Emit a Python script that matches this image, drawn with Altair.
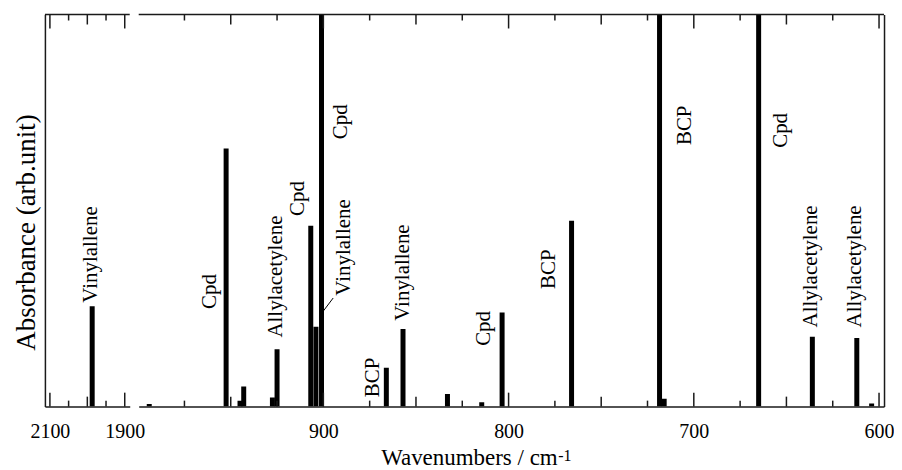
import altair as alt
import pandas as pd

# ---------------- data ----------------
left_wn = [1987]
left_abs = [0.256]

right_wn = [994, 952.5, 945, 943, 927.5, 925, 906.8, 904, 901, 866, 857, 833,
            814.5, 803.5, 766, 718.5, 716, 665, 636, 612, 604]
right_abs = [0.007, 0.658, 0.015, 0.051, 0.023, 0.146, 0.461, 0.204, 1.05, 0.099,
             0.198, 0.032, 0.011, 0.240, 0.474, 1.05, 0.02, 1.05, 0.178, 0.175, 0.008]

left_lab_text = ["Vinylallene"]
left_lab_wn = [1974]
left_lab_abs = [0.265]

lab_text = ["Cpd", "Allylacetylene", "Cpd", "Vinylallene", "Cpd", "BCP", "Vinylallene",
            "Cpd", "BCP", "BCP", "Cpd", "Allylacetylene", "Allylacetylene"]
lab_wn = [958.2, 922.1, 910.6, 885.4, 887.4, 870.1, 854.0, 810.3, 775.0, 701.6,
          649.5, 633.5, 609.6]
lab_abs = [0.249, 0.176, 0.486, 0.283, 0.682, 0.024, 0.219, 0.155, 0.300, 0.667,
           0.660, 0.202, 0.202]

leader_wn = [901.1, 894.7]
leader_abs = [0.237, 0.277]

left_ticks_major = [2100, 1900]
left_ticks_mid = [2000]
left_ticks_minor = [2050, 1950]
right_ticks_major = [900, 800, 700, 600]
right_ticks_mid = [950, 850, 750, 650]
right_ticks_minor = [975, 925, 875, 825, 775, 725, 675, 625]

left_tick_labels = [2100, 1900]
right_tick_labels = [900, 800, 700, 600]

y_title = "Absorbance (arb.unit)"
x_title = "Wavenumbers / cm"
x_title_sup = "-1"

# ---------------- styling ----------------
FONT = "Liberation Serif"
H = 393
WL, WR = 85, 747
LINE = "#1a1a1a"
LW = 1.5
TICK_LEN = {"major": 14, "mid": 10, "minor": 6}

xl = alt.Scale(domain=[2100, 1900], nice=False, zero=False)
xr = alt.Scale(domain=[997, 600], nice=False, zero=False)
ys = alt.Scale(domain=[0, 1], nice=False, zero=True)


def tick_layers(values, xscale, kind):
    df = pd.DataFrame({"wn": values})
    n = TICK_LEN[kind]
    base = alt.Chart(df).mark_rule(color=LINE, strokeWidth=LW)
    bottom = base.encode(x=alt.X("wn:Q", scale=xscale, axis=None),
                         y=alt.value(H), y2=alt.value(H - n))
    top = base.encode(x=alt.X("wn:Q", scale=xscale, axis=None),
                      y=alt.value(0), y2=alt.value(n))
    return [bottom, top]


def x_axis(values):
    return alt.Axis(values=values, format="d", labelFont=FONT, labelFontSize=20,
                    labelColor="black", ticks=False, tickSize=0, labelPadding=15,
                    domain=True, domainColor=LINE, domainWidth=LW, grid=False,
                    title=None, labelFlush=False, labelOverlap=False)


# ---------------- left panel ----------------
left_df = pd.DataFrame({"wn": left_wn, "abs": left_abs})
left_bars = alt.Chart(left_df).mark_bar(color="black", size=5, clip=True).encode(
    x=alt.X("wn:Q", scale=xl, axis=x_axis(left_tick_labels)),
    y=alt.Y("abs:Q", scale=ys,
            axis=alt.Axis(labels=False, ticks=False, tickSize=0, domain=True,
                          domainColor=LINE, domainWidth=LW, grid=False,
                          title=y_title, titleFont=FONT, titleFontSize=27,
                          titleFontWeight="normal", titleColor="black",
                          titlePadding=4, titleY=218)),
)
left_lab = alt.Chart(pd.DataFrame({"t": left_lab_text, "wn": left_lab_wn, "abs": left_lab_abs})).mark_text(
    angle=270, align="left", baseline="alphabetic", font=FONT, fontSize=21, color="black"
).encode(x=alt.X("wn:Q", scale=xl, axis=None), y=alt.Y("abs:Q", scale=ys, axis=None), text="t:N")

left_top = alt.Chart(pd.DataFrame({"a": [0]})).mark_rule(color=LINE, strokeWidth=LW).encode(
    x=alt.value(0), x2=alt.value(WL), y=alt.value(0))

left_layers = [left_bars, left_lab, left_top]
left_layers += tick_layers(left_ticks_major, xl, "major")
left_layers += tick_layers(left_ticks_mid, xl, "mid")
left_layers += tick_layers(left_ticks_minor, xl, "minor")
left = alt.layer(*left_layers).resolve_axis(x="independent", y="independent").properties(width=WL, height=H)

# ---------------- right panel ----------------
right_df = pd.DataFrame({"wn": right_wn, "abs": right_abs})
right_bars = alt.Chart(right_df).mark_bar(color="black", size=5, clip=True).encode(
    x=alt.X("wn:Q", scale=xr, axis=x_axis(right_tick_labels)),
    y=alt.Y("abs:Q", scale=ys,
            axis=alt.Axis(orient="right", labels=False, ticks=False, tickSize=0,
                          domain=True, domainColor=LINE, domainWidth=LW,
                          grid=False, title=None)),
)
right_lab = alt.Chart(pd.DataFrame({"t": lab_text, "wn": lab_wn, "abs": lab_abs})).mark_text(
    angle=270, align="left", baseline="alphabetic", font=FONT, fontSize=21, color="black"
).encode(x=alt.X("wn:Q", scale=xr, axis=None), y=alt.Y("abs:Q", scale=ys, axis=None), text="t:N")

leader = alt.Chart(pd.DataFrame({"wn": leader_wn, "abs": leader_abs})).mark_line(
    color="black", strokeWidth=1).encode(
    x=alt.X("wn:Q", scale=xr, axis=None), y=alt.Y("abs:Q", scale=ys, axis=None))

right_top = alt.Chart(pd.DataFrame({"a": [0]})).mark_rule(color=LINE, strokeWidth=LW).encode(
    x=alt.value(0), x2=alt.value(WR), y=alt.value(0))

title_main = alt.Chart(pd.DataFrame({"t": [x_title]})).mark_text(
    align="left", baseline="alphabetic", font=FONT, fontSize=23, color="black"
).encode(x=alt.value(243), y=alt.value(452), text="t:N")
title_sup = alt.Chart(pd.DataFrame({"t": [x_title_sup]})).mark_text(
    align="left", baseline="alphabetic", font=FONT, fontSize=16, color="black"
).encode(x=alt.value(420.5), y=alt.value(447), text="t:N")

right_layers = [right_bars, right_lab, leader, right_top, title_main, title_sup]
right_layers += tick_layers(right_ticks_major, xr, "major")
right_layers += tick_layers(right_ticks_mid, xr, "mid")
right_layers += tick_layers(right_ticks_minor, xr, "minor")
right = alt.layer(*right_layers).resolve_axis(x="independent", y="independent").properties(width=WR, height=H)

chart = alt.hconcat(left, right, spacing=9, bounds="flush").properties(
    padding={"left": 5, "top": 5, "right": 0, "bottom": 0}
).configure_view(stroke=None)

chart.save("out.html", embed_options={"renderer": "svg", "actions": False})
